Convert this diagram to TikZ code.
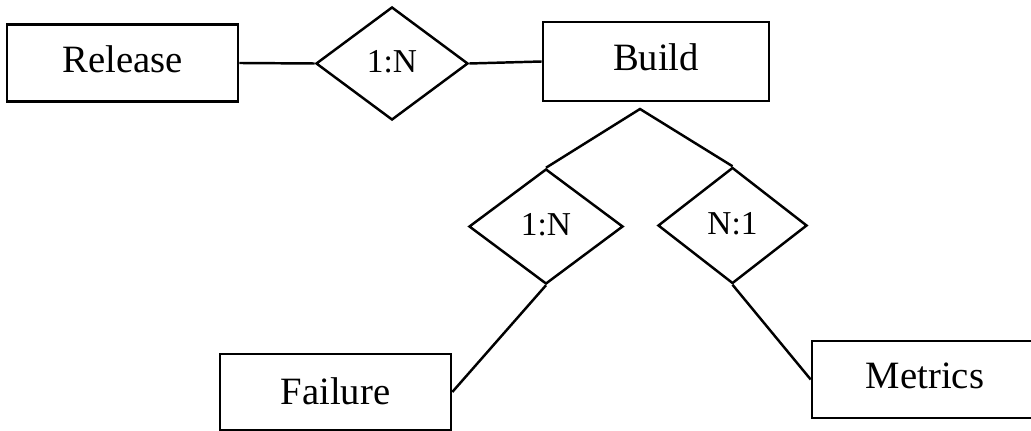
\documentclass[tikz,border=0pt]{standalone}
\usepackage{fontspec}
\setmainfont{Liberation Serif}
\usepackage{tikz}
\usetikzlibrary{shapes.geometric}
\usetikzlibrary{calc}

\begin{document}
\begin{tikzpicture}[x=0.01cm,y=-0.01cm,line width=0.7pt,
  entity/.style={draw,rectangle,inner sep=0pt,minimum width=2.31cm,minimum height=0.77cm,text depth=0.08cm,font=\fontsize{11}{13}\selectfont},
  relation/.style={draw,diamond,inner sep=0pt,minimum width=1.52cm,minimum height=1.14cm,text depth=0.04cm,font=\fontsize{9.5}{11}\selectfont}]
\useasboundingbox (0,0) rectangle (1031,431);
% entities
\node[entity] (release) at (122.5,63) {Release};
\node[entity,minimum width=2.26cm,minimum height=0.79cm] (build) at (656,61.5) {Build};
\node[entity,minimum height=0.76cm,text depth=0.01cm] (failure) at (335.5,392) {Failure};
\node[entity,minimum width=2.26cm] (metrics) at (925,379.5) {Metrics};
% relationships
\node[relation,minimum height=1.13cm] (relrb) at (392,63.5) {1:N};
\node[relation,minimum width=1.54cm,minimum height=1.15cm] (relbf) at (546,226.5) {1:N};
\node[relation,minimum width=1.49cm,minimum height=1.16cm] (relbm) at (732.5,225.5) {N:1};
\coordinate (fork) at (640,109);
% links
\draw (release.east) -- (relrb.west);
\draw (relrb.east) -- (build.west);
\draw (relbf.north) -- (fork) -- (relbm.north);
\draw (relbf.south) -- (failure.east);
\draw (relbm.south) -- (metrics.west);
\end{tikzpicture}
\end{document}
